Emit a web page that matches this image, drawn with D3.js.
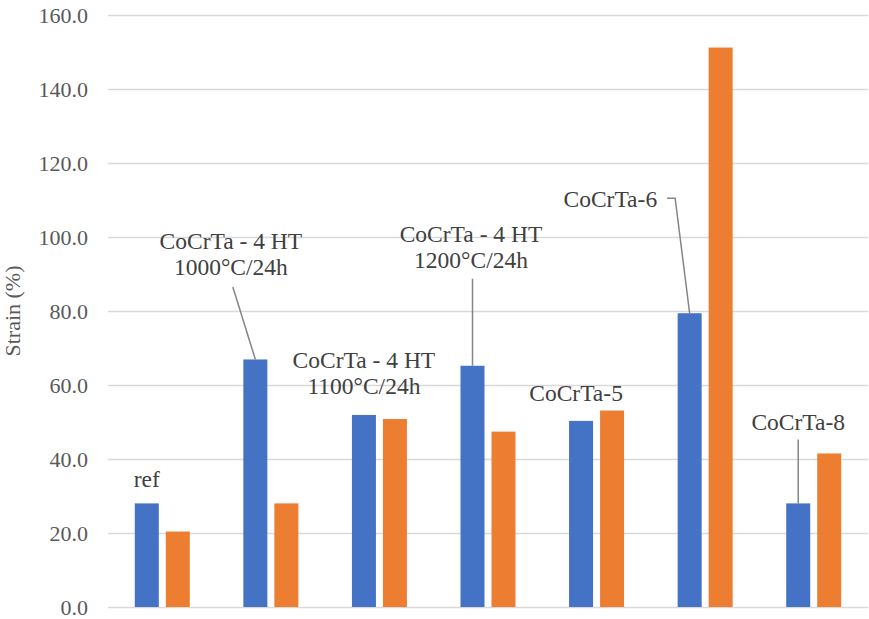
<!DOCTYPE html>
<html>
<head>
<meta charset="utf-8">
<script src="https://cdn.jsdelivr.net/npm/d3@7"></script>
<style>
  html, body { margin: 0; padding: 0; background: #ffffff; }
  svg { display: block; }
  svg text { font-family: "Liberation Serif", "Times New Roman", Tinos, "DejaVu Serif", serif; }
</style>
</head>
<body>
<svg id="chart" width="869" height="619"></svg>
<script>
// Alloy samples and their two strain measurements
const categories = ["ref", "HT1000", "HT1100", "HT1200", "CoCrTa-5", "CoCrTa-6", "CoCrTa-8"];
const seriesNames = ["s1", "s2"];
const strainA = [28.0, 66.9, 51.9, 65.2, 50.3, 79.4, 28.0];
const strainB = [20.4, 28.0, 50.8, 47.4, 53.1, 151.2, 41.5];
const yTicks = [0, 20, 40, 60, 80, 100, 120, 140, 160];
const yTitle = "Strain (%)";

// Callout text for each sample
const calloutText = [
  ["ref"],
  ["CoCrTa - 4 HT", "1000°C/24h"],
  ["CoCrTa - 4 HT", "1100°C/24h"],
  ["CoCrTa - 4 HT", "1200°C/24h"],
  ["CoCrTa-5"],
  ["CoCrTa-6"],
  ["CoCrTa-8"]
];

// Callout placement, offsets in px from the top centre of the first bar
const calloutLayout = [
  { dx: 0,     dy: -16,    anchor: "middle", leader: null },
  { dx: -24.5, dy: -110.5, anchor: "middle", leader: [[-22.5, -72.5]] },
  { dx: 0,     dy: -47,    anchor: "middle", leader: null },
  { dx: -1.5,  dy: -124,   anchor: "middle", leader: [[0, -87]] },
  { dx: -5,    dy: -20,    anchor: "middle", leader: null },
  { dx: -32.5, dy: -106,   anchor: "end",    leader: [[-22.5, -115], [-14.5, -115]] },
  { dx: 0,     dy: -73,    anchor: "middle", leader: [[0, -64]] }
];

const colors = { s1: "#4472C4", s2: "#ED7D31" };
const rows = categories.map((c, i) => ({ cat: c, s1: strainA[i], s2: strainB[i] }));

const svg = d3.select("#chart");
const plot = { left: 108, right: 868, top: 15, bottom: 607 };

const x0 = d3.scaleBand().domain(categories).range([plot.left, plot.right]).paddingInner(0).paddingOuter(0);
const x1 = d3.scaleBand().domain(seriesNames).range([0, 55]).paddingInner(7 / 31).paddingOuter(0);
const groupOffset = (x0.bandwidth() - 55) / 2;
const y = d3.scaleLinear().domain([0, 160]).range([plot.bottom, plot.top]);

// Gridlines and tick labels
const yAxis = d3.axisLeft(y)
  .tickValues(yTicks)
  .tickSize(-(plot.right - plot.left))
  .tickPadding(20)
  .tickFormat(d3.format(".1f"));

const gAxis = svg.append("g")
  .attr("transform", `translate(${plot.left},0)`)
  .call(yAxis)
  .attr("font-family", null);
gAxis.select(".domain").remove();
gAxis.selectAll(".tick line")
  .attr("stroke", "#d9d9d9")
  .attr("stroke-width", 1.6);
gAxis.selectAll(".tick text")
  .attr("fill", "#595959")
  .attr("font-size", 22)
  .attr("dy", "0.34em");

// Bars
const groups = svg.append("g")
  .selectAll("g")
  .data(rows)
  .join("g")
  .attr("transform", d => `translate(${x0(d.cat) + groupOffset},0)`);

groups.selectAll("rect")
  .data(d => seriesNames.map(k => ({ key: k, value: d[k] })))
  .join("rect")
  .attr("x", d => x1(d.key))
  .attr("width", x1.bandwidth())
  .attr("y", d => y(d.value))
  .attr("height", d => y(0) - y(d.value))
  .attr("fill", d => colors[d.key]);

// Callouts with leader lines
const gCall = svg.append("g");
rows.forEach((d, i) => {
  const bx = x0(d.cat) + groupOffset + x1("s1") + x1.bandwidth() / 2;
  const ty = y(d.s1);
  const lay = calloutLayout[i];
  if (lay.leader) {
    const pts = lay.leader.map(p => [bx + p[0], ty + p[1]]).concat([[bx, ty]]);
    gCall.append("path")
      .attr("d", d3.line()(pts))
      .attr("fill", "none")
      .attr("stroke", "#858585")
      .attr("stroke-width", 1.5);
  }
  const t = gCall.append("text")
    .attr("x", bx + lay.dx)
    .attr("y", ty + lay.dy)
    .attr("text-anchor", lay.anchor)
    .attr("fill", "#404040")
    .attr("font-size", 23.5);
  calloutText[i].forEach((line, j) => {
    t.append("tspan")
      .attr("x", bx + lay.dx)
      .attr("dy", j === 0 ? 0 : 26.5)
      .text(line);
  });
});

// Axis title
svg.append("text")
  .attr("transform", `translate(20,${(plot.top + plot.bottom) / 2}) rotate(-90)`)
  .attr("text-anchor", "middle")
  .attr("fill", "#595959")
  .attr("font-size", 22)
  .text(yTitle);
</script>
</body>
</html>
